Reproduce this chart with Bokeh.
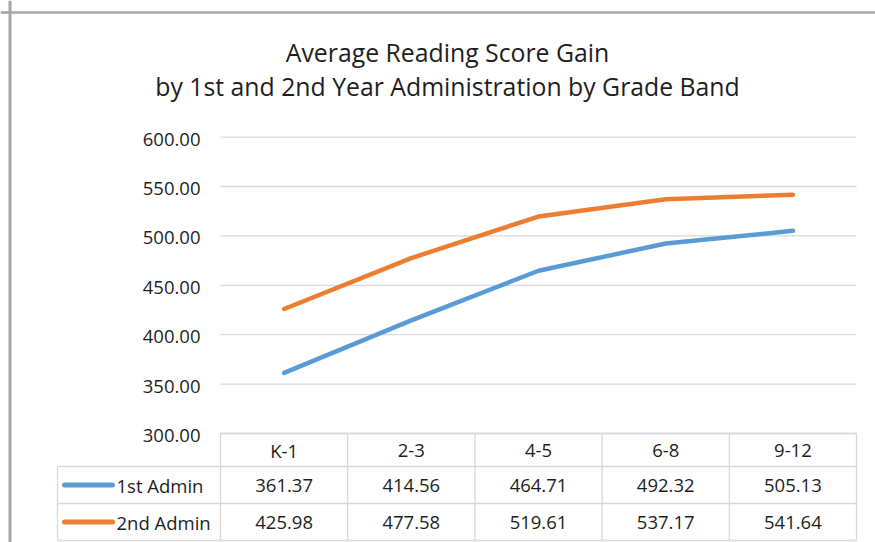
from bokeh.plotting import figure
from bokeh.models import Range1d, Span
from bokeh.core.properties import value
from bokeh.embed import file_html
from bokeh.resources import INLINE

# ---- data ----
title_lines = ["Average Reading Score Gain",
               "by 1st and 2nd Year Administration by Grade Band"]
grades = ["K-1", "2-3", "4-5", "6-8", "9-12"]
series_names = ["1st Admin", "2nd Admin"]
first_admin = [361.37, 414.56, 464.71, 492.32, 505.13]
second_admin = [425.98, 477.58, 519.61, 537.17, 541.64]
y_ticks = [300, 350, 400, 450, 500, 550, 600]
series_colors = ["#5B9BD5", "#ED7D31"]

# ---- layout constants (pixels) ----
W, H = 875, 542
COL_PX = 127.2          # width of one grade column
PX_PER_UNIT = 0.988     # vertical pixels per score point
PLOT_LEFT_PX = 220      # x of first column's left edge
BASE_PX = 433           # y (from top) of the 300 line / table top
ROW_EDGES_PX = [433, 466, 503, 540]   # table row boundaries
FONT = value("Open Sans")
TXT = "#1e1e1e"
GRID = "#D9D9D9"
FS = value("18.5px")

X_START = -0.5 - PLOT_LEFT_PX / COL_PX
X_END = X_START + W / COL_PX
Y_MIN = y_ticks[0]
Y_START = Y_MIN - (H - BASE_PX) / PX_PER_UNIT
Y_END = Y_START + H / PX_PER_UNIT


def px_x(px):
    return X_START + px / COL_PX


p = figure(width=W, height=H, output_backend="svg", toolbar_location=None,
           x_range=Range1d(X_START, X_END), y_range=Range1d(Y_START, Y_END),
           x_axis_type=None, y_axis_type=None, min_border=0,
           background_fill_color="white", border_fill_color="white",
           outline_line_color=None)
p.grid.visible = False
# pixel-from-top scale for the table and the title
p.extra_y_ranges = {"px": Range1d(start=H, end=0)}

n = len(grades)
xs = list(range(n))
x_lo, x_hi = -0.5, n - 0.5

# gridlines
p.segment(x0=[x_lo] * len(y_ticks), x1=[x_hi] * len(y_ticks), y0=y_ticks, y1=y_ticks,
          line_color=GRID, line_width=1.3)
# y tick labels
p.text(x=[px_x(200)] * len(y_ticks), y=y_ticks,
       text=[f"{t:.2f}" for t in y_ticks], text_font=FONT,
       text_font_size=FS, text_color=TXT,
       text_align="right", text_baseline="middle", y_offset=2)

# series lines
for vals, col in zip([first_admin, second_admin], series_colors):
    p.line(xs, vals, line_color=col, line_width=4.5, line_cap="round", line_join="round")

# ---- data table ----
left_edge = px_x(57)
r0, r1, r2, r3 = ROW_EDGES_PX
p.segment(x0=[x_lo, left_edge, left_edge, left_edge], x1=[x_hi] * 4,
          y0=ROW_EDGES_PX, y1=ROW_EDGES_PX, y_range_name="px",
          line_color=GRID, line_width=1.3)
vx = [x_lo + i for i in range(n + 1)]
p.segment(x0=vx, x1=vx, y0=[r0] * len(vx), y1=[r3] * len(vx), y_range_name="px",
          line_color=GRID, line_width=1.3)
p.segment(x0=[left_edge], x1=[left_edge], y0=[r1], y1=[r3], y_range_name="px",
          line_color=GRID, line_width=1.3)

row_mid = [(a + b) / 2 for a, b in zip(ROW_EDGES_PX[:-1], ROW_EDGES_PX[1:])]
p.text(x=xs, y=[row_mid[0]] * n, text=grades, y_range_name="px", text_font=FONT,
       text_font_size=FS, text_color=TXT, text_align="center",
       text_baseline="middle", y_offset=0)
for mid, vals in zip(row_mid[1:], [first_admin, second_admin]):
    p.text(x=xs, y=[mid] * n, text=[f"{v:.2f}" for v in vals], y_range_name="px",
           text_font=FONT, text_font_size=FS, text_color=TXT,
           text_align="center", text_baseline="middle", y_offset=0)

# legend keys and names in the table's first column
p.segment(x0=[px_x(64)] * 2, x1=[px_x(112)] * 2, y0=row_mid[1:], y1=row_mid[1:],
          y_range_name="px", line_color=series_colors, line_width=5, line_cap="round")
p.text(x=[px_x(116)] * 2, y=row_mid[1:], text=series_names, y_range_name="px",
       text_font=FONT, text_font_size=FS, text_color=TXT,
       text_align="left", text_baseline="middle", y_offset=0)

# title
p.text(x=[px_x(447)] * 2, y=[51, 85], text=title_lines,
       y_range_name="px", text_font=FONT, text_font_size=value("24.8px"),
       text_color=TXT, text_align="center", text_baseline="middle")

# chart-area border (left and top edges visible)
p.add_layout(Span(location=px_x(9.5), dimension="height", line_color="#A6A6A6", line_width=3))
p.add_layout(Span(location=Y_END - 12 / PX_PER_UNIT, dimension="width",
                  line_color="#A6A6A6", line_width=2.5))

open("out.html", "w").write(file_html(p, INLINE))
